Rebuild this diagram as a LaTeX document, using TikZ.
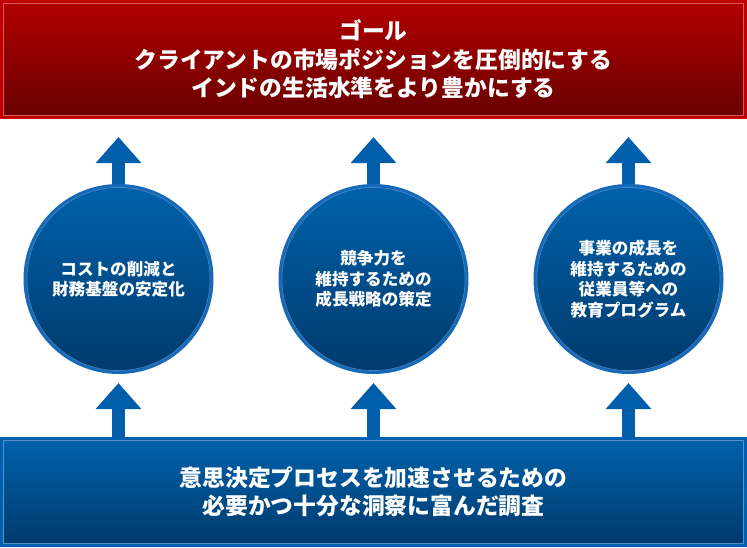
\documentclass[tikz,border=0pt]{standalone}
\usepackage{fontspec}
\newfontfamily\jp{Noto Sans CJK JP}
\usetikzlibrary{arrows.meta,calc}
\definecolor{redborder}{RGB}{192,0,0}
\definecolor{redtop}{RGB}{178,0,0}
\definecolor{redbot}{RGB}{104,0,0}
\definecolor{redline}{RGB}{214,90,90}
\definecolor{blueborder}{RGB}{0,96,176}
\definecolor{bluetop}{RGB}{0,98,172}
\definecolor{bluebot}{RGB}{0,58,108}
\definecolor{bluering}{RGB}{22,104,184}
\definecolor{blueline}{RGB}{90,145,205}
\definecolor{arrowblue}{RGB}{0,94,170}
\tikzset{
  banner/.style={rectangle, line width=3pt, outer sep=0pt, inner sep=0pt,
    minimum width=744pt, text=white, align=center},
  bigtext/.style={font=\jp\bfseries\fontsize{22.8}{28.5}\selectfont},
  goalbox/.style={banner, draw=redborder, top color=redtop, bottom color=redbot, minimum height=116pt},
  basebox/.style={banner, draw=blueborder, top color=bluetop, bottom color=bluebot, minimum height=107pt},
  themecircle/.style={circle, line width=3pt, outer sep=0pt, inner sep=0pt,
    minimum size=187pt, draw=bluering, top color=bluetop, bottom color=bluebot,
    text=white, align=center, font=\jp\bfseries\fontsize{16.6}{20.5}\selectfont},
  fatarrow/.style={draw=arrowblue, line width=13pt,
    -{Triangle[width=44pt,length=26pt,color=arrowblue]}},
}
\begin{document}
\begin{tikzpicture}[x=1pt,y=-1pt]
\useasboundingbox (0,0) rectangle (747,547);
\fill[white] (0,0) rectangle (747,547);
\path
  coordinate (gpos) at (373.5,59.5)
  coordinate (bpos) at (373.5,492)
  coordinate (p1) at (118.5,279)
  coordinate (p2) at (373.5,279)
  coordinate (p3) at (628.5,279);
\path (gpos) ++(0,58) coordinate (gsouth);
\path (bpos) ++(0,-53.5) coordinate (bnorth);
\foreach \i in {1,2,3}{
  \draw[fatarrow] ($(p\i)+(0,-88)$) -- ($(gsouth -| p\i)+(0,19.5)$);
  \draw[fatarrow] ($(bnorth -| p\i)+(0,4)$) -- ($(p\i)+(0,104)$);
}
\node[goalbox, bigtext] (goal) at (gpos) {ゴール\\クライアントの市場ポジションを圧倒的にする\\インドの生活水準をより豊かにする};
\draw[redline, line width=0.8pt] ([shift={(2.2,2.2)}]goal.north west) rectangle ([shift={(-2.2,-2.2)}]goal.south east);
\node[basebox, bigtext] (base) at (bpos) {意思決定プロセスを加速させるための\\必要かつ十分な洞察に富んだ調査};
\draw[blueline, line width=0.8pt] ([shift={(2.2,2.2)}]base.north west) rectangle ([shift={(-2.2,-2.2)}]base.south east);
\node[themecircle] (c1) at (p1) {コストの削減と\\財務基盤の安定化};
\node[themecircle] (c2) at (p2) {競争力を\\維持するための\\成長戦略の策定};
\node[themecircle] (c3) at (p3) {事業の成長を\\維持するための\\従業員等への\\教育プログラム};
\foreach \c in {c1,c2,c3}{
  \draw[blueline, line width=0.7pt, opacity=0.8] (\c.center) circle[radius=91.6pt];
}
\end{tikzpicture}
\end{document}
